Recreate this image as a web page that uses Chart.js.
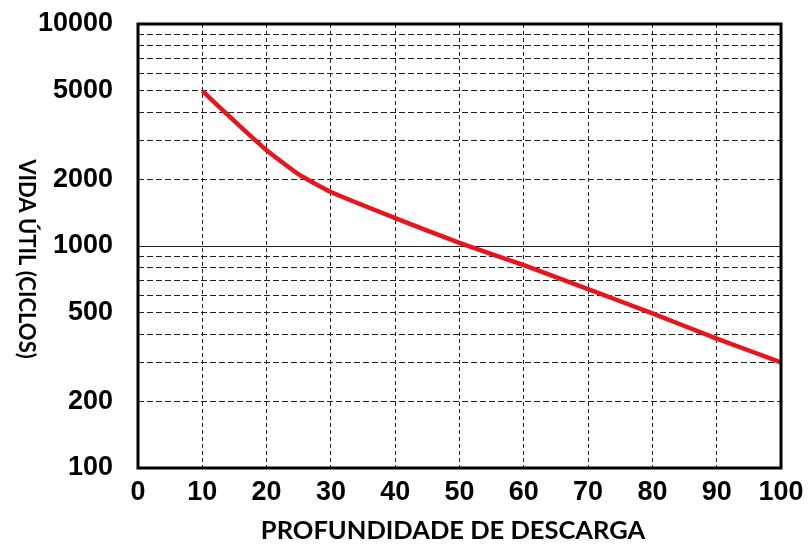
<!DOCTYPE html>
<html>
<head>
<meta charset="utf-8">
<script src="https://cdn.jsdelivr.net/npm/chart.js@4/dist/chart.umd.min.js"></script>
<style>
html,body{margin:0;padding:0;background:#fff;}
#c{display:block;}
</style>
</head>
<body>
<canvas id="c" width="808" height="545"></canvas>
<script>
// ---- data ----
const depthOfDischarge = [10, 15, 20, 25, 30, 40, 50, 60, 70, 80, 90, 100];
const cycleLife        = [5000, 3650, 2700, 2100, 1750, 1335, 1032, 820, 639, 497, 383, 299];
const yGridValues  = [100,200,300,400,500,600,700,800,900,1000,2000,3000,4000,5000,6000,7000,8000,9000,10000];
const yLabelValues = [100, 200, 500, 1000, 2000, 5000, 10000];
const xTickValues  = [0,10,20,30,40,50,60,70,80,90,100];
const xTitle = 'PROFUNDIDADE DE DESCARGA';
const yTitle = 'VIDA ÚTIL (CICLOS)';

const framePlugin = {
  id: 'frame',
  afterDatasetsDraw(chart) {
    const {ctx, chartArea: a} = chart;
    ctx.save();
    ctx.strokeStyle = '#000';
    ctx.lineWidth = 3;
    ctx.strokeRect(a.left, a.top, a.right - a.left, a.bottom - a.top);
    ctx.restore();
  },
  afterDraw(chart) {
    const {ctx} = chart;
    ctx.save();
    ctx.fillStyle = '#000';
    ctx.textAlign = 'center';
    ctx.textBaseline = 'middle';
    ctx.font = 'bold 25.5px Lato, "Open Sans", sans-serif';
    ctx.fillText(xTitle, 453, 531);
    ctx.translate(26, 259);
    ctx.rotate(Math.PI / 2);
    ctx.font = 'bold 22px Lato, "Open Sans", sans-serif';
    ctx.fillText(yTitle, 0, 0);
    ctx.restore();
  }
};

new Chart(document.getElementById('c'), {
  type: 'line',
  data: {
    datasets: [{
      data: depthOfDischarge.map((x, i) => ({x: x, y: cycleLife[i]})),
      borderColor: '#e8161c',
      borderWidth: 4.5,
      pointRadius: 0,
      tension: 0.15,
      fill: false
    }]
  },
  options: {
    responsive: false,
    devicePixelRatio: 1,
    animation: false,
    layout: {padding: {top: 24, right: 27, left: 0, bottom: 0}},
    plugins: {legend: {display: false}, tooltip: {enabled: false}},
    scales: {
      x: {
        type: 'linear',
        min: 0, max: 100,
        afterBuildTicks: s => { s.ticks = xTickValues.map(v => ({value: v})); },
        afterFit: s => { s.height = 77; s.paddingLeft = 0; s.paddingRight = 0; },
        ticks: {
          color: '#000',
          padding: 8,
          font: {family: '"Liberation Sans", Arial, sans-serif', size: 27, weight: 'bold'},
          maxRotation: 0, autoSkip: false
        },
        grid: {color: '#222', lineWidth: 1, drawTicks: false},
        border: {display: false, dash: [4, 3]}
      },
      y: {
        type: 'logarithmic',
        min: 100, max: 10000,
        afterBuildTicks: s => { s.ticks = yGridValues.map(v => ({value: v})); },
        afterFit: s => { s.width = 138; s.paddingTop = 0; s.paddingBottom = 0; },
        ticks: {
          color: '#000',
          padding: 25,
          autoSkip: false,
          font: {family: '"Liberation Sans", Arial, sans-serif', size: 27, weight: 'bold'},
          callback: v => yLabelValues.includes(v) ? String(v) : ''
        },
        grid: {color: '#222', lineWidth: 1, drawTicks: false},
        border: {
          display: false,
          dash: ctx => (ctx.tick && ctx.tick.value === 1000) ? [] : [6, 3]
        }
      }
    }
  },
  plugins: [framePlugin]
});
</script>
</body>
</html>
